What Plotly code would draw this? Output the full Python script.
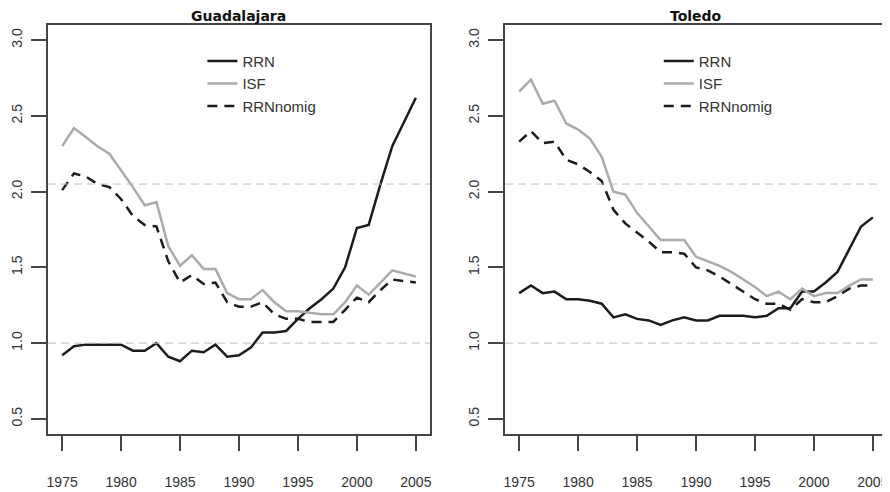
import plotly.graph_objects as go
from plotly.subplots import make_subplots

years = [1975, 1976, 1977, 1978, 1979, 1980, 1981, 1982, 1983, 1984, 1985,
         1986, 1987, 1988, 1989, 1990, 1991, 1992, 1993, 1994, 1995,
         1996, 1997, 1998, 1999, 2000, 2001, 2002, 2003, 2004, 2005]

# Guadalajara
gua_rrn = [0.92, 0.98, 0.99, 0.99, 0.99, 0.99, 0.95, 0.95, 1.00, 0.91, 0.88,
           0.95, 0.94, 0.99, 0.91, 0.92, 0.97, 1.07, 1.07, 1.08, 1.16,
           1.23, 1.29, 1.36, 1.50, 1.76, 1.78, 2.05, 2.30, 2.46, 2.62]
gua_isf = [2.30, 2.42, 2.36, 2.30, 2.25, 2.14, 2.03, 1.91, 1.93, 1.64, 1.51,
           1.58, 1.49, 1.49, 1.33, 1.29, 1.29, 1.35, 1.27, 1.21, 1.21,
           1.20, 1.19, 1.19, 1.27, 1.38, 1.32, 1.40, 1.48, 1.46, 1.44]
gua_nomig = [2.01, 2.12, 2.10, 2.05, 2.03, 1.95, 1.84, 1.78, 1.77, 1.54, 1.40,
             1.45, 1.39, 1.40, 1.27, 1.24, 1.24, 1.27, 1.19, 1.16, 1.16,
             1.14, 1.14, 1.14, 1.22, 1.30, 1.27, 1.35, 1.42, 1.41, 1.40]

# Toledo
tol_rrn = [1.33, 1.38, 1.33, 1.34, 1.29, 1.29, 1.28, 1.26, 1.17, 1.19, 1.16,
           1.15, 1.12, 1.15, 1.17, 1.15, 1.15, 1.18, 1.18, 1.18, 1.17,
           1.18, 1.23, 1.23, 1.34, 1.34, 1.40, 1.47, 1.62, 1.77, 1.83]
tol_isf = [2.66, 2.74, 2.58, 2.60, 2.45, 2.41, 2.35, 2.23, 2.00, 1.98, 1.86,
           1.77, 1.68, 1.68, 1.68, 1.57, 1.54, 1.51, 1.47, 1.42, 1.37,
           1.31, 1.34, 1.29, 1.36, 1.31, 1.33, 1.33, 1.38, 1.42, 1.42]
tol_nomig = [2.33, 2.40, 2.32, 2.33, 2.21, 2.18, 2.13, 2.07, 1.88, 1.79, 1.73,
             1.67, 1.60, 1.60, 1.59, 1.50, 1.48, 1.44, 1.39, 1.34, 1.29,
             1.26, 1.26, 1.22, 1.29, 1.27, 1.27, 1.31, 1.36, 1.38, 1.38]

ref_levels = [1.0, 2.05]
panels = ["Guadalajara", "Toledo"]
series_names = ["RRN", "ISF", "RRNnomig"]
x_ticks = [1975, 1980, 1985, 1990, 1995, 2000, 2005]
y_ticks = [0.5, 1.0, 1.5, 2.0, 2.5, 3.0]

styles = {
    "RRN": dict(color="#1c1c1c", width=2.5),
    "ISF": dict(color="#ababab", width=2.5),
    "RRNnomig": dict(color="#1c1c1c", width=2.5, dash="10px,7px"),
}

fig = make_subplots(rows=1, cols=2)

data = [(gua_rrn, gua_isf, gua_nomig), (tol_rrn, tol_isf, tol_nomig)]
for i, vals in enumerate(data):
    leg = "legend" if i == 0 else "legend2"
    for name, v in zip(series_names, vals):
        fig.add_trace(go.Scatter(x=years, y=v, mode="lines", name=name,
                                 line=styles[name], legend=leg),
                      row=1, col=i + 1)
    for lv in ref_levels:
        fig.add_hline(y=lv, line=dict(color="#bdbdbd", width=1, dash="8px,5px"),
                      row=1, col=i + 1)

axis_font = dict(family="Liberation Sans, Arial, sans-serif", size=14, color="#333")
common_x = dict(range=[1973.8, 2006.2], tickvals=x_ticks, ticks="outside", ticklen=15,
                tickwidth=1.5, tickcolor="#444", showline=True, mirror=True,
                linecolor="#444", linewidth=1.5, showgrid=False, zeroline=False,
                tickfont=axis_font, ticklabelstandoff=19, automargin=False)
common_y = dict(range=[0.4, 3.1], tickvals=y_ticks, ticktext=[f"{t:.1f}" for t in y_ticks],
                ticks="outside", ticklen=15, tickwidth=1.5, tickcolor="#444",
                showline=True, mirror=True, linecolor="#444", linewidth=1.5,
                showgrid=False, zeroline=False, tickangle=-90, tickfont=axis_font,
                ticklabelstandoff=4, automargin=False)

fig.update_xaxes(**common_x)
fig.update_yaxes(**common_y)
fig.update_layout(
    xaxis=dict(domain=[0, 0.4553]),
    xaxis2=dict(domain=[0.5447, 1.0]),
)

leg_common = dict(bgcolor="rgba(0,0,0,0)", borderwidth=0, yanchor="top", xanchor="left",
                  font=dict(family="Liberation Sans, Arial, sans-serif", size=15, color="#333"),
                  tracegroupgap=0, itemwidth=30)
fig.update_layout(
    legend=dict(x=0.184, y=0.952, **leg_common),
    legend2=dict(x=0.728, y=0.952, **leg_common),
)

for i, title in enumerate(panels):
    fig.add_annotation(text=f"<b>{title}</b>", xref=f"x{'' if i == 0 else 2} domain",
                       yref="paper", x=0.5, y=1.0, yanchor="middle", yshift=9,
                       showarrow=False,
                       font=dict(family="DejaVu Sans, sans-serif", size=14, color="#111"))

# page body adds an 8px margin, so the figure is made 8px smaller on each side used
fig.update_layout(
    width=882, height=484,
    margin=dict(l=40, r=3, t=17, b=58),
    plot_bgcolor="white", paper_bgcolor="white",
)

fig.write_html("out.html")
